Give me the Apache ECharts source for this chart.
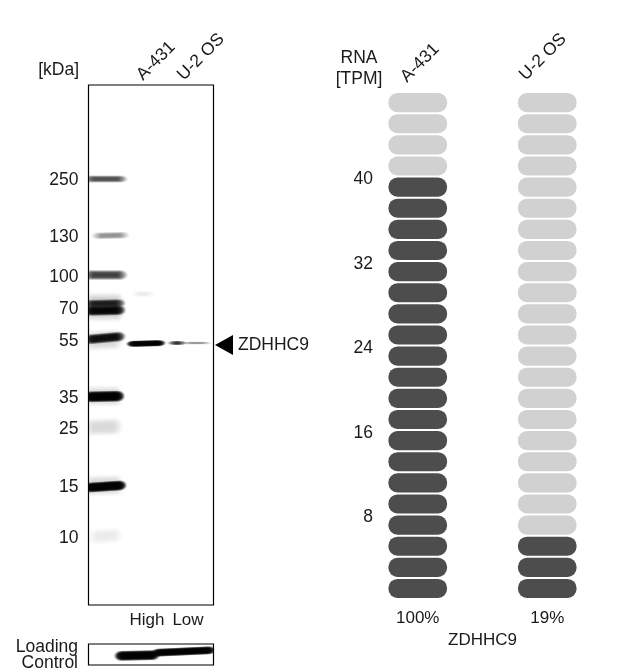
<!DOCTYPE html>
<html><head><meta charset="utf-8">
<style>html,body{margin:0;padding:0;background:#fff}#c{width:640px;height:669px}</style>
<script src="https://cdn.jsdelivr.net/npm/echarts@6/dist/echarts.min.js"></script>
</head><body><div id="c"></div>
<script>
// Western blot: marker labels and where they sit on the gel (migration distance)
const ladderKDa = [250, 130, 100, 70, 55, 35, 25, 15, 10];
const ladderDistance = [94, 151, 191, 223, 255, 312, 343, 401, 452];
// Streaks read from the gel: [startLane, startDistance, endLane, endDistance, thickness, darkness]
const ladderStreaks = [
  [-6, 94, 40, 94, 8, 0.62],
  [2, 151, 42, 150, 8, 0.36],
  [-6, 190, 40, 190, 11, 0.68],
  [-6, 222, 38, 222, 32, 0.22],
  [-6, 219, 38, 218, 9, 0.8],
  [-6, 226, 38, 225, 11, 0.95],
  [-6, 255, 38, 251, 11, 0.92],
  [-6, 256, 36, 254, 24, 0.14],
  [-6, 311, 36, 311, 24, 0.14],
  [-6, 312, 37, 311, 12, 1],
  [-6, 343, 36, 341, 20, 0.13],
  [-6, 401, 37, 400, 24, 0.14],
  [-6, 403, 39, 400, 11, 1],
  [-2, 452, 36, 450, 18, 0.06]
];
const sampleStreaks = [
  [37, 259, 78, 258, 7, 1],
  [78, 258, 99, 258, 5, 0.75],
  [92, 258, 124, 258, 3.5, 0.35],
  [41, 209, 68, 209, 7, 0.06]
];
const loadingStreaks = [
  [25, 12, 72, 11, 11, 1],
  [62, 9, 128, 6, 9, 1]
];
const blotLanes = ['A-431', 'U-2 OS'];
const laneLevels = ['High', 'Low'];
const targetName = 'ZDHHC9';

// RNA panel
const cellLines = ['A-431', 'U-2 OS'];
const rnaPercent = ['100%', '19%'];
const rnaTPM = [40, 6];
const rnaTicks = [8, 16, 24, 32, 40];
const rnaMax = 48;
const rnaStep = 2;

const FONT = '"Liberation Sans", Arial, sans-serif';
const INK = '#1a1a1a';
const TXT = 17.5;

const pillData = [];
cellLines.forEach((name, i) => {
  for (let low = 0; low < rnaMax; low += rnaStep) {
    pillData.push([i, low, low + rnaStep, low < rnaTPM[i] ? 1 : 0]);
  }
});

// Each streak is a dense row of soft elliptical blobs, so it reads as one smooth band.
function streakRender(params, api) {
  const a = api.coord([api.value(0), api.value(1)]);
  const b = api.coord([api.value(2), api.value(3)]);
  const h = api.value(4), d = Math.min(api.value(5), 0.995);
  const len = Math.hypot(b[0] - a[0], b[1] - a[1]);
  const blobW = Math.min(len, 14);
  const n = Math.max(1, Math.round((len - blobW) / 2) + 1);
  const layers = Math.min(n, Math.max(1, blobW * 0.6 / 2));
  const alpha = 1 - Math.pow(1 - d, 1 / layers);
  const rot = Math.atan2(b[1] - a[1], b[0] - a[0]);
  const rgba = x => 'rgba(0,0,0,' + x.toFixed(4) + ')';
  const children = [];
  for (let k = 0; k < n; k++) {
    const t = n === 1 ? 0.5 : k / (n - 1);
    const along = (blobW / 2 + t * (len - blobW)) / (len || 1);
    children.push({
      type: 'circle', x: a[0] + (b[0] - a[0]) * along, y: a[1] + (b[1] - a[1]) * along,
      rotation: -rot, scaleX: blobW / 2, scaleY: h / 2,
      shape: { cx: 0, cy: 0, r: 1 },
      style: { fill: new echarts.graphic.RadialGradient(0.5, 0.5, 0.5, [
        { offset: 0, color: rgba(alpha) },
        { offset: 0.5, color: rgba(alpha) },
        { offset: 1, color: rgba(0) }
      ]) }
    });
  }
  return { type: 'group', children: children };
}
function pillRender(params, api) {
  const bandW = api.size([1, 0])[0];
  const top = api.coord([api.value(0), api.value(2)]);
  const bottom = api.coord([api.value(0), api.value(1)]);
  const w = bandW * 0.453;
  return {
    type: 'rect',
    shape: { x: top[0] - w / 2, y: top[1] + 1, width: w, height: bottom[1] - top[1] - 2, r: 9 },
    style: { fill: api.value(3) ? '#4d4d4d' : '#d1d1d1' }
  };
}
function txt(text, x, y, opts) {
  return {
    type: 'text', x: x, y: y, rotation: (opts && opts.rot) || 0, silent: true,
    style: Object.assign({ text: text, font: ((opts && opts.size) || TXT) + 'px ' + FONT, fill: INK,
      align: 'center', verticalAlign: 'middle' }, opts && opts.style)
  };
}
const R45 = Math.PI / 4;
const chart = echarts.init(document.getElementById('c'), null, { renderer: 'canvas' });
const hiddenX = { type: 'value', min: 0, max: 125, show: false };
chart.setOption({
  animation: false,
  backgroundColor: '#fff',
  textStyle: { fontFamily: FONT },
  grid: [
    { left: 88.5, top: 85, width: 125, height: 520, show: true, borderColor: '#000', borderWidth: 1.2, backgroundColor: '#fff' },
    { left: 88.5, top: 644, width: 125, height: 21, show: true, borderColor: '#000', borderWidth: 1.2, backgroundColor: '#fff' },
    { left: 353, top: 92, width: 259, height: 507 }
  ],
  xAxis: [
    Object.assign({ gridIndex: 0 }, hiddenX),
    Object.assign({ gridIndex: 1 }, hiddenX),
    { gridIndex: 2, type: 'category', data: rnaPercent,
      axisLine: { show: false }, axisTick: { show: false },
      axisLabel: { color: INK, fontSize: 17, fontFamily: FONT, margin: 11 },
      name: targetName, nameLocation: 'middle', nameGap: 33,
      nameTextStyle: { color: INK, fontSize: 17, fontFamily: FONT } }
  ],
  yAxis: [
    { gridIndex: 0, type: 'value', inverse: true, min: 0, max: 520, splitLine: { show: false },
      axisLine: { show: false }, axisTick: { show: false },
      axisLabel: { customValues: ladderDistance, margin: 10, color: INK, fontSize: TXT, fontFamily: FONT,
        verticalAlign: 'top', lineHeight: 2,
        formatter: v => String(ladderKDa[ladderDistance.indexOf(v)]) } },
    { gridIndex: 1, type: 'value', inverse: true, min: 0, max: 21, show: false },
    { gridIndex: 2, type: 'value', min: 0, max: rnaMax, splitLine: { show: false },
      axisLine: { show: false }, axisTick: { show: false },
      axisLabel: { customValues: rnaTicks, margin: -20, color: INK, fontSize: TXT, fontFamily: FONT,
        verticalAlign: 'top', lineHeight: 6 } }
  ],
  series: [
    { type: 'custom', xAxisIndex: 0, yAxisIndex: 0, clip: true, silent: true, data: ladderStreaks, renderItem: streakRender },
    { type: 'custom', xAxisIndex: 0, yAxisIndex: 0, clip: true, silent: true, data: sampleStreaks, renderItem: streakRender },
    { type: 'custom', xAxisIndex: 1, yAxisIndex: 1, clip: true, silent: true, data: loadingStreaks, renderItem: streakRender },
    { type: 'custom', xAxisIndex: 2, yAxisIndex: 2, silent: true, data: pillData, renderItem: pillRender }
  ],
  graphic: { elements: [
    txt('[kDa]', 79, 70, { style: { align: 'right' } }),
    txt(blotLanes[0], 156, 61, { rot: R45 }),
    txt(blotLanes[1], 201, 57, { rot: R45 }),
    txt(laneLevels[0], 147, 620, { size: 17 }),
    txt(laneLevels[1], 188, 620, { size: 17 }),
    txt('Loading', 78, 647, { style: { align: 'right' } }),
    txt('Control', 78, 663, { style: { align: 'right' } }),
    { type: 'polygon', silent: true, shape: { points: [[215, 345], [233, 335], [233, 355]] }, style: { fill: '#000' } },
    txt(targetName, 238, 345, { style: { align: 'left' } }),
    txt('RNA', 359, 58),
    txt('[TPM]', 359, 79),
    txt(cellLines[0], 420, 63, { rot: R45 }),
    txt(cellLines[1], 543, 57, { rot: R45 })
  ] }
});
</script></body></html>
